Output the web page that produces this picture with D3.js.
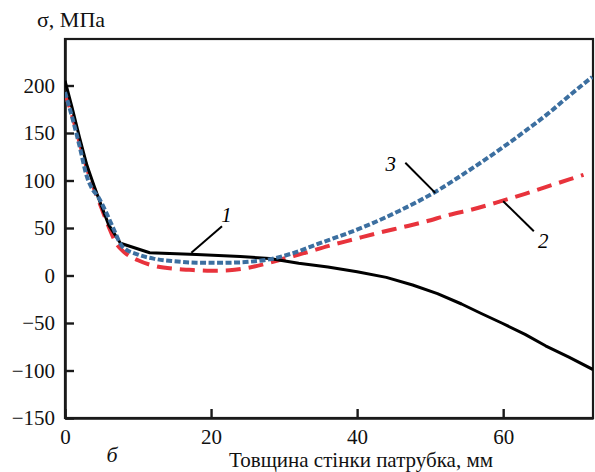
<!DOCTYPE html>
<html>
<head>
<meta charset="utf-8">
<script src="https://cdn.jsdelivr.net/npm/d3@7"></script>
<style>
  html, body { margin: 0; padding: 0; background: #fff; }
  svg { display: block; }
</style>
</head>
<body>
<svg id="chart" width="595" height="472"></svg>
<script>
// Wall thickness of the nozzle, mm, and stress, MPa, for three cases
const thickness1 = [0, 1, 2, 3, 4, 5, 6, 7.6, 11.6, 18, 24, 28, 32, 36, 40, 44, 47.6, 51, 54.3, 57, 59.8, 63, 65.8, 69, 72.3];
const stress1    = [205, 176, 145, 116, 94, 73, 53, 34, 24, 22, 20, 18, 13, 9, 4, -2, -10, -19, -30, -40, -50, -62, -74, -86, -99];

const thickness2 = [0, 1, 2, 3, 4, 5, 6, 7, 8.2, 10, 12.3, 15, 17, 20, 22.5, 25, 28, 30.4, 33, 36, 39.5, 43, 46.3, 49, 52.7, 56, 59.6, 63, 67, 71];
const stress2    = [192, 168, 140, 113, 91, 71, 51, 34, 24, 16, 10, 7, 6, 5, 5.5, 8, 13.5, 18.6, 24, 31, 38, 45, 51, 56, 64, 70, 78, 86, 96, 106];

const thickness3 = [0, 1, 2, 3, 3.6, 4.6, 5.6, 6.6, 7.8, 10, 12.3, 15, 18, 21, 24, 26, 28, 31, 34.9, 38, 41.8, 45.9, 50.7, 55, 59.6, 63, 66.4, 69, 72.2];
const stress3    = [193, 166, 136, 104, 93, 82, 67, 50, 31, 22, 17.5, 15, 13.5, 13.3, 13.8, 15, 17, 23, 34, 42.5, 54, 68.5, 88, 109, 133, 152, 172, 189, 209];

const yTicks = [-150, -100, -50, 0, 50, 100, 150, 200];
const xTicks = [0, 20, 40, 60];
const curveLabels = ["1", "2", "3"];
// leader lines: [from thickness, from stress, to thickness, to stress]
const leaders = [[17.3, 23.9, 21.5, 51.9], [60, 78.2, 64.2, 46.6], [50.7, 87, 46.6, 118.6]];
const labelAt = [[22.1, 64], [65.5, 37], [44.6, 118]];

const SERIF = "'Liberation Serif', 'Times New Roman', serif";

const svg = d3.select("#chart");
const plotLeft = 65, plotRight = 593, plotTop = 39, plotBottom = 418;

const x = d3.scaleLinear().domain([0, 72.3]).range([plotLeft, plotRight]);
const y = d3.scaleLinear().domain([-150, 250]).range([plotBottom, plotBottom - 400 * 0.95]);

svg.append("defs").append("clipPath").attr("id", "plot")
  .append("rect").attr("x", plotLeft).attr("y", plotTop)
  .attr("width", plotRight - plotLeft).attr("height", plotBottom - plotTop);

// frame
svg.append("rect")
  .attr("x", plotLeft).attr("y", plotTop)
  .attr("width", plotRight - plotLeft).attr("height", plotBottom - plotTop)
  .attr("fill", "none").attr("stroke", "#1a1a1a").attr("stroke-width", 2.2);

// axes with inward ticks
const yAxis = d3.axisLeft(y).tickValues(yTicks).tickSizeInner(-9).tickSizeOuter(0).tickPadding(10);
const xAxis = d3.axisBottom(x).tickValues(xTicks).tickSizeInner(-9).tickSizeOuter(0).tickPadding(11);

const gy = svg.append("g").attr("transform", `translate(${plotLeft},0)`).call(yAxis);
const gx = svg.append("g").attr("transform", `translate(0,${plotBottom})`).call(xAxis);
[gy, gx].forEach(g => {
  g.select(".domain").attr("stroke", "#1a1a1a").attr("stroke-width", 2.6);
  g.selectAll(".tick line").attr("stroke", "#1a1a1a").attr("stroke-width", 2.4);
  g.selectAll(".tick text").attr("fill", "#111")
    .style("font-family", SERIF).style("font-size", "21px");
});

const plot = svg.append("g").attr("clip-path", "url(#plot)");

const line = (xs, ys, curve) => d3.line()
  .x((d, i) => x(xs[i])).y((d, i) => y(ys[i])).curve(curve)(xs);

plot.append("path").attr("d", line(thickness2, stress2, d3.curveMonotoneX))
  .attr("fill", "none").attr("stroke", "#e8333c").attr("stroke-width", 4)
  .attr("stroke-dasharray", "15,8");

plot.append("path").attr("d", line(thickness1, stress1, d3.curveLinear))
  .attr("fill", "none").attr("stroke", "#000").attr("stroke-width", 3)
  .attr("stroke-linejoin", "round");

plot.append("path").attr("d", line(thickness3, stress3, d3.curveMonotoneX))
  .attr("fill", "none").attr("stroke", "#3c6fa0").attr("stroke-width", 4)
  .attr("stroke-dasharray", "6,2.5");

// curve labels with leader lines
leaders.forEach((l, i) => {
  svg.append("line")
    .attr("x1", x(l[0])).attr("y1", y(l[1])).attr("x2", x(l[2])).attr("y2", y(l[3]))
    .attr("stroke", "#000").attr("stroke-width", 2);
  svg.append("text")
    .attr("x", x(labelAt[i][0])).attr("y", y(labelAt[i][1]))
    .attr("text-anchor", "middle").attr("dy", "0.35em")
    .style("font-family", SERIF).style("font-size", "21px").style("font-style", "italic")
    .text(curveLabels[i]);
});

// axis titles
svg.append("text").attr("x", 37).attr("y", 27)
  .style("font-family", SERIF).style("font-size", "22px").attr("fill", "#111")
  .text("σ, МПа");
svg.append("text").attr("x", 361).attr("y", 467).attr("text-anchor", "middle")
  .style("font-family", SERIF).style("font-size", "21px").attr("fill", "#111")
  .text("Товщина стінки патрубка, мм");
svg.append("text").attr("x", 112).attr("y", 462).attr("text-anchor", "middle")
  .style("font-family", SERIF).style("font-size", "22px").style("font-style", "italic").attr("fill", "#111")
  .text("б");
</script>
</body>
</html>
